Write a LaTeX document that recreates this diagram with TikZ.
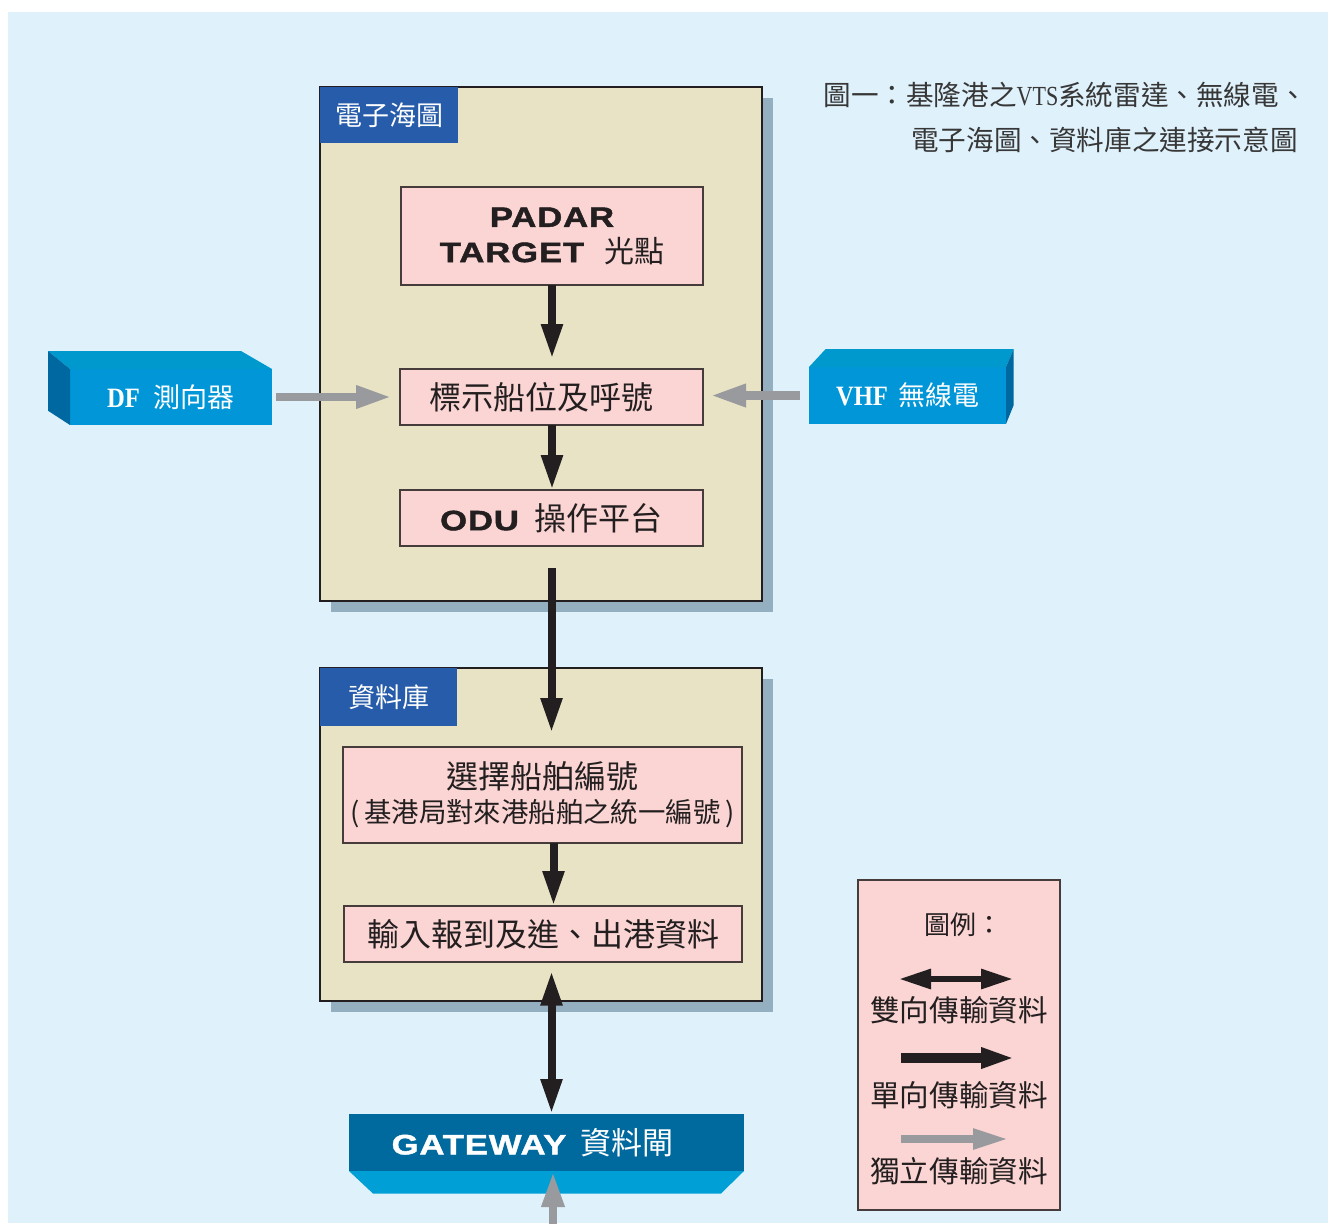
\documentclass[tikz,border=0pt]{standalone}
\usepackage{fontspec}
\usetikzlibrary{arrows.meta,calc}
\newfontfamily\cjk{Noto Sans CJK TC}
\newfontfamily\heavy{Liberation Sans}[BoldFeatures={FakeStretch=1.24,FakeBold=1.6,LetterSpace=3}]
\newfontfamily\serifb{Liberation Serif}[BoldFeatures={FakeStretch=0.88}]
\newfontfamily\capserif{Liberation Serif}[FakeStretch=0.8]
\definecolor{bgblue}{RGB}{223,241,251}
\definecolor{beige}{RGB}{231,227,196}
\definecolor{shadowc}{RGB}{148,175,191}
\definecolor{tabblue}{RGB}{38,92,169}
\definecolor{pinkbox}{RGB}{251,213,211}
\definecolor{boxline}{RGB}{70,60,60}
\definecolor{txt}{RGB}{35,31,32}
\definecolor{cyanfront}{RGB}{0,150,215}
\definecolor{cyantop}{RGB}{0,153,206}
\definecolor{cyandark}{RGB}{0,104,160}
\definecolor{gwdark}{RGB}{0,105,158}
\definecolor{gwlight}{RGB}{0,159,213}
\definecolor{greyarrow}{RGB}{152,154,157}
\definecolor{captc}{RGB}{55,55,55}
\begin{document}
\begin{tikzpicture}[x=0.5pt,y=-0.5pt,
  outerbox/.style={draw=txt,line width=1.3pt,fill=beige,inner sep=0pt,outer sep=0pt},
  tabbox/.style={fill=tabblue,text=white,inner sep=0pt,outer sep=0pt,font=\cjk\fontsize{13.5}{16}\selectfont},
  pbox/.style={draw=boxline,line width=0.7pt,fill=pinkbox,inner sep=0pt,outer sep=0pt,align=center,text=txt},
  cyanbox/.style={fill=cyanfront,text=white,inner sep=0pt,outer sep=0pt},
  blk/.style={draw=txt,line width=4pt,-{Triangle[length=17.5pt,width=10pt]}},
  gry/.style={draw=greyarrow,line width=4.4pt,-{Triangle[length=18pt,width=10.5pt]}},
  cjkbig/.style={font=\cjk\fontsize{16}{19}\selectfont},
  legtext/.style={text=txt,inner sep=0pt,font=\cjk\fontsize{14.8}{17}\selectfont},
  capt/.style={text=captc,inner sep=0pt,font=\cjk\fontsize{13.8}{16}\selectfont}
]
\fill[white] (0,0) rectangle (1328,1223);
\fill[bgblue] (8,12) rectangle (1328,1223);
\useasboundingbox (0,0) rectangle (1328,1223);

% caption
\node[capt,anchor=west] (cap1) at (823,95) {圖一：基隆港之{\capserif VTS}系統雷達、無線電、};
\node[capt,anchor=east] (cap2) at (1298,140) {電子海圖、資料庫之連接示意圖};

% chart group
\fill[shadowc] (331,98) rectangle (773,612);
\node[outerbox,minimum width=221pt,minimum height=257pt] (chart) at (541,344) {};
\node[tabbox,anchor=north west,minimum width=69pt,minimum height=28pt] (charttab) at (chart.north west) {電子海圖};
\node[pbox,minimum width=151pt,minimum height=49pt] (padar) at (552,236)
  {{\heavy\bfseries\fontsize{14}{17.5}\selectfont PADAR}\\[4pt]
   {\heavy\bfseries\fontsize{14}{17.5}\selectfont TARGET}\hspace{10pt}{\cjk\fontsize{15}{17.5}\selectfont 光點}};
\node[pbox,cjkbig,minimum width=151.5pt,minimum height=28pt] (mark) at (551.5,397) {\hspace*{-10pt}標示船位及呼號};
\node[pbox,minimum width=151.5pt,minimum height=28pt] (odu) at (551.5,518)
  {{\heavy\bfseries\fontsize{14}{17}\selectfont ODU}\hspace{8pt}{\cjk\fontsize{16}{19}\selectfont 操作平台}};

% database group
\fill[shadowc] (331,679) rectangle (773,1012);
\node[outerbox,minimum width=221pt,minimum height=166.5pt] (db) at (541,834.5) {};
\node[tabbox,anchor=north west,minimum width=68.5pt,minimum height=29pt] (dbtab) at (db.north west) {資料庫};
\node[pbox,minimum width=199.5pt,minimum height=48pt,text width=199.5pt] (sel) at (542.5,795)
  {{\cjk\fontsize{16}{18}\selectfont 選擇船舶編號}\\[3pt]{\cjk\fontsize{13.7}{15}\selectfont (\,基港局對來港船舶之統一編號\,)}};
\node[pbox,cjkbig,minimum width=199pt,minimum height=28pt] (inp) at (543,934) {輸入報到及進、出港資料};

% gateway
\node[fill=gwdark,text=white,inner sep=0pt,outer sep=0pt,minimum width=197.5pt,minimum height=28.5pt] (gw) at (546.5,1142.5)
  {\hspace*{-14pt}{\heavy\bfseries\fontsize{14}{17}\selectfont GATEWAY}\hspace{7pt}{\cjk\fontsize{15.5}{18}\selectfont 資料閘}};
\fill[gwlight] (gw.south west) -- (gw.south east) -- ++(-23,22.5) -- ($(gw.south west)+(24,22.5)$) -- cycle;

% DF box
\node[cyanbox,minimum width=101pt,minimum height=28pt] (df) at (171,397)
  {{\serifb\bfseries\fontsize{14}{17}\selectfont DF}\hspace{7pt}{\cjk\fontsize{13.5}{16}\selectfont 測向器}};
\fill[cyantop] (df.north west) -- ++(-22,-18) -- ++(193,0) -- (df.north east) -- cycle;
\fill[cyandark] (df.north west) -- ++(-22,-18) -- ++(0,59.7) -- (df.south west) -- cycle;

% VHF box
\node[cyanbox,minimum width=98.5pt,minimum height=28.5pt] (vhf) at (907.5,395.5)
  {{\serifb\bfseries\fontsize{14}{17}\selectfont VHF}\hspace{5pt}{\cjk\fontsize{13.5}{16}\selectfont 無線電}};
\fill[cyantop] (vhf.north west) -- ++(16.7,-18) -- ++(188,0) -- (vhf.north east) -- cycle;
\fill[cyandark] (vhf.north east) -- ++(7.7,-18) -- ++(0,56) -- (vhf.south east) -- cycle;

% arrows
\draw[blk] (padar.south) -- ([yshift=5pt]padar.south |- mark.north);
\draw[blk] (padar.south |- mark.south) -- (padar.south |- odu.north);
\draw[blk] ([yshift=-11pt]odu.south) -- ([yshift=7pt]odu.south |- sel.north);
\draw[blk] ([xshift=1pt]odu.south |- sel.south) -- ([xshift=1pt]odu.south |- inp.north);
\draw[draw=txt,line width=4pt,{Triangle[length=17.5pt,width=10pt]}-{Triangle[length=17.5pt,width=10pt]}]
  ([yshift=-4.3pt]odu.south |- inp.south) -- (odu.south |- gw.north);
\draw[gry] ([xshift=2pt]df.east) -- ([xshift=-4pt]mark.west |- df.east);
\draw[gry] ([xshift=-4.5pt]vhf.west) -- ([xshift=3.5pt]mark.east |- vhf.west);
\coordinate (feed) at (553,1235);
\draw[gry] (feed) -- (feed |- gw.south);

% legend
\node[pbox,minimum width=101pt,minimum height=165pt] (leg) at (959,1045) {};
\node[legtext,font=\cjk\fontsize{13}{15}\selectfont] (legtitle) at (963,925) {圖例：};
\coordinate (l1a) at (899,979);
\coordinate (l1b) at (1013,979);
\draw[draw=txt,line width=3pt,{Triangle[length=16pt,width=9.5pt]}-{Triangle[length=16pt,width=9.5pt]}] (l1a) -- (l1b);
\node[legtext] (leg1) at (959,1010) {雙向傳輸資料};
\coordinate (l2a) at (901,1058);
\coordinate (l2b) at (1015,1058);
\draw[draw=txt,line width=5pt,-{Triangle[length=17pt,width=9.5pt]}] (l2a) -- (l2b);
\node[legtext] (leg2) at (959,1095) {單向傳輸資料};
\coordinate (l3a) at (901,1139);
\coordinate (l3b) at (1009,1139);
\draw[draw=greyarrow,line width=4pt,-{Triangle[length=18pt,width=9.5pt]}] (l3a) -- (l3b);
\node[legtext] (leg3) at (959,1171) {獨立傳輸資料};
\end{tikzpicture}
\end{document}
